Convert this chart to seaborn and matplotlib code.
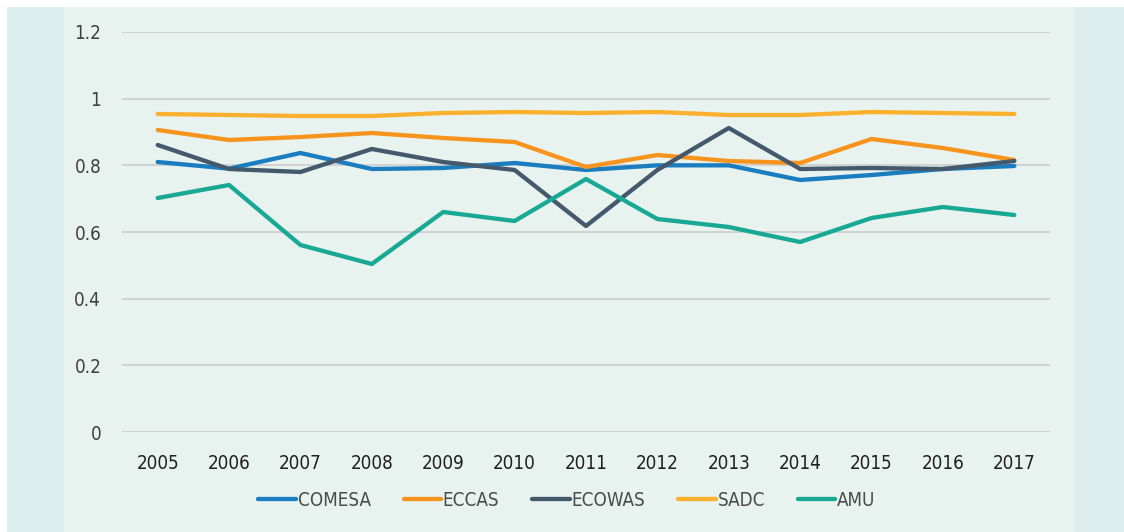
import matplotlib
matplotlib.use('Agg')
import pandas as pd
import numpy as np
import matplotlib.pyplot as plt
import seaborn as sns
from matplotlib.patches import Rectangle
from matplotlib import font_manager

# dados
anos = [2005, 2006, 2007, 2008, 2009, 2010, 2011, 2012, 2013, 2014, 2015, 2016, 2017]
comesa = [0.81, 0.79, 0.837, 0.789, 0.792, 0.807, 0.786, 0.80, 0.80, 0.756, 0.771, 0.789, 0.798]
eccas = [0.906, 0.876, 0.885, 0.897, 0.882, 0.87, 0.795, 0.831, 0.813, 0.807, 0.879, 0.852, 0.816]
ecowas = [0.861, 0.789, 0.78, 0.849, 0.81, 0.786, 0.618, 0.786, 0.912, 0.789, 0.792, 0.789, 0.813]
sadc = [0.954, 0.951, 0.948, 0.948, 0.957, 0.96, 0.957, 0.96, 0.951, 0.951, 0.96, 0.957, 0.954]
amu = [0.702, 0.741, 0.561, 0.504, 0.66, 0.633, 0.759, 0.639, 0.615, 0.57, 0.642, 0.675, 0.651]

regioes = ['COMESA', 'ECCAS', 'ECOWAS', 'SADC', 'AMU']
cores = ['#1a7dbf', '#f7941d', '#44596b', '#fbb12e', '#19a893']

df = pd.DataFrame({'Ano': [str(a) for a in anos], 'COMESA': comesa, 'ECCAS': eccas,
                   'ECOWAS': ecowas, 'SADC': sadc, 'AMU': amu})
df_long = df.melt(id_vars='Ano', var_name='Regiao', value_name='Valor')

sns.set_style('white')
# fonte estreita, se houver
nomes = {f.name for f in font_manager.fontManager.ttflist}
if 'Liberation Sans Narrow' in nomes:
    plt.rcParams['font.family'] = ['Liberation Sans Narrow', 'DejaVu Sans']
else:
    plt.rcParams['font.family'] = ['DejaVu Sans']
    plt.rcParams['font.stretch'] = 'condensed'

fig = plt.figure(figsize=(11.24, 5.32), dpi=100)
fig.patch.set_facecolor('white')
# fundo: faixa externa e painel central
fig.patches.append(Rectangle((7 / 1124, 0), 1 - 7 / 1124, 1 - 7 / 532, transform=fig.transFigure,
                             facecolor='#dcefee', edgecolor='none', zorder=-2))
fig.patches.append(Rectangle((64 / 1124, 0), (1075 - 64) / 1124, 1 - 7 / 532, transform=fig.transFigure,
                             facecolor='#e8f3ef', edgecolor='none', zorder=-1))

ax = fig.add_axes([122 / 1124, 100 / 532, (1050 - 122) / 1124, 400 / 532])
ax.set_facecolor('none')

sns.lineplot(data=df_long, x='Ano', y='Valor', hue='Regiao', hue_order=regioes,
             palette=cores, linewidth=3.1, sort=False, ax=ax, legend=False,
             solid_capstyle='round')

ax.set_xlim(-0.5, 12.5)
ax.set_ylim(0, 1.2)
ax.set_yticks([0, 0.2, 0.4, 0.6, 0.8, 1.0, 1.2])
ax.set_yticklabels(['0', '0.2', '0.4', '0.6', '0.8', '1', '1.2'])
ax.grid(axis='y', color='#d2d2d2', linewidth=1.4)
ax.set_axisbelow(True)
for s in ax.spines.values():
    s.set_visible(False)
ax.tick_params(axis='both', length=0, labelsize=13.5, colors='#3f3f3f')
ax.tick_params(axis='y', pad=15)
ax.tick_params(axis='x', pad=16)
ax.set_xlabel('')
ax.set_ylabel('')
for lbl in ax.get_xticklabels():
    lbl.set_color('#1f1f1f')

handles = [plt.Line2D([], [], color=c, linewidth=3.1, solid_capstyle='round') for c in cores]
fig.legend(handles, regioes, loc='center', bbox_to_anchor=(567 / 1124, 1 - 500 / 532),
           ncol=5, frameon=False, fontsize=13.5, handlelength=2.0, handletextpad=0.1,
           columnspacing=1.75, labelcolor='#4a4a4a')

fig.savefig('out.png', dpi=100, facecolor=fig.get_facecolor())
